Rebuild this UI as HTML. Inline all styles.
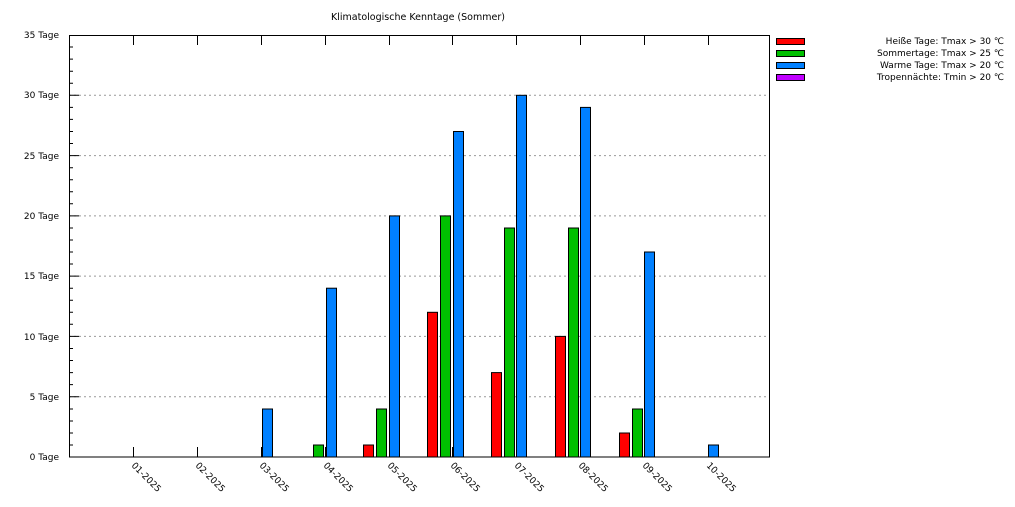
<!DOCTYPE html><html><head><style>body{margin:0;background:#fff}svg{display:block;font-family:"DejaVu Sans","Liberation Sans",sans-serif}</style></head><body>
<svg width="1015" height="507" xmlns="http://www.w3.org/2000/svg">
<text x="418" y="20" font-size="9.5" text-anchor="middle">Klimatologische Kenntage (Sommer)</text>
<g stroke="#999" stroke-dasharray="2,3" stroke-width="1">
<line x1="69" x2="770" y1="396.7" y2="396.7"/><line x1="69" x2="770" y1="336.4" y2="336.4"/><line x1="69" x2="770" y1="276.1" y2="276.1"/><line x1="69" x2="770" y1="215.9" y2="215.9"/><line x1="69" x2="770" y1="155.6" y2="155.6"/><line x1="69" x2="770" y1="95.3" y2="95.3"/>
</g>
<g stroke="#000" stroke-width="1">
<path d="M69 445h4M69 433h4M69 421h4M69 409h4M69 396.7h10M69 384.6h4M69 372.6h4M69 360.5h4M69 348.5h4M69 336.4h10M69 324.3h4M69 312.3h4M69 300.2h4M69 288.2h4M69 276.1h10M69 264h4M69 252h4M69 240h4M69 228h4M69 215.9h10M69 203.8h4M69 191.8h4M69 179.7h4M69 167.7h4M69 155.6h10M69 143.5h4M69 131.5h4M69 119.4h4M69 107.4h4M69 95.3h10M69 83.2h4M69 71.2h4M69 59.1h4M69 47h4"/>
<path d="M133.5 457v-10M197.5 457v-10M261.5 457v-10M325.5 457v-10M389.5 457v-10M452.5 457v-10M516.5 457v-10M580.5 457v-10M644.5 457v-10M708.5 457v-10"/>
<path d="M133.5 35v10M197.5 35v10M261.5 35v10M325.5 35v10M389.5 35v10M452.5 35v10M516.5 35v10M580.5 35v10M644.5 35v10M708.5 35v10"/>
</g>
<g font-size="9" text-anchor="end">
<text x="59" y="460">0 Tage</text><text x="59" y="400">5 Tage</text><text x="59" y="340">10 Tage</text><text x="59" y="279">15 Tage</text><text x="59" y="219">20 Tage</text><text x="59" y="159">25 Tage</text><text x="59" y="98">30 Tage</text><text x="59" y="38">35 Tage</text>
</g>
<g font-size="9">
<text transform="translate(131,466) rotate(45)">01-2025</text><text transform="translate(195,466) rotate(45)">02-2025</text><text transform="translate(259,466) rotate(45)">03-2025</text><text transform="translate(323,466) rotate(45)">04-2025</text><text transform="translate(387,466) rotate(45)">05-2025</text><text transform="translate(450,466) rotate(45)">06-2025</text><text transform="translate(514,466) rotate(45)">07-2025</text><text transform="translate(578,466) rotate(45)">08-2025</text><text transform="translate(642,466) rotate(45)">09-2025</text><text transform="translate(706,466) rotate(45)">10-2025</text>
</g>
<g stroke="#000" stroke-width="1">
<rect x="262.5" y="409" width="10" height="48" fill="#0080ff"/>
<rect x="313.5" y="445" width="10" height="12" fill="#00c000"/><rect x="326.5" y="288.2" width="10" height="168.8" fill="#0080ff"/>
<rect x="363.5" y="445" width="10" height="12" fill="#ff0000"/><rect x="376.5" y="409" width="10" height="48" fill="#00c000"/><rect x="389.5" y="215.9" width="10" height="241.1" fill="#0080ff"/>
<rect x="427.5" y="312.3" width="10" height="144.7" fill="#ff0000"/><rect x="440.5" y="215.9" width="10" height="241.1" fill="#00c000"/><rect x="453.5" y="131.5" width="10" height="325.5" fill="#0080ff"/>
<rect x="491.5" y="372.6" width="10" height="84.4" fill="#ff0000"/><rect x="504.5" y="228" width="10" height="229" fill="#00c000"/><rect x="516.5" y="95.3" width="10" height="361.7" fill="#0080ff"/>
<rect x="555.5" y="336.4" width="10" height="120.6" fill="#ff0000"/><rect x="568.5" y="228" width="10" height="229" fill="#00c000"/><rect x="580.5" y="107.4" width="10" height="349.6" fill="#0080ff"/>
<rect x="619.5" y="433" width="10" height="24" fill="#ff0000"/><rect x="632.5" y="409" width="10" height="48" fill="#00c000"/><rect x="644.5" y="252" width="10" height="205" fill="#0080ff"/>
<rect x="708.5" y="445" width="10" height="12" fill="#0080ff"/>
</g>
<rect x="69.5" y="35.5" width="700" height="421.5" fill="none" stroke="#000"/>
<g stroke="#000" stroke-width="1">
<rect x="776.5" y="38.5" width="28" height="6" fill="#ff0000"/>
<rect x="776.5" y="50.5" width="28" height="6" fill="#00c000"/>
<rect x="776.5" y="62.5" width="28" height="6" fill="#0080ff"/>
<rect x="776.5" y="74.5" width="28" height="6" fill="#c000ff"/>
</g>
<g font-size="9" text-anchor="end">
<text x="1004" y="44">Heiße Tage: Tmax &gt; 30 ℃</text>
<text x="1004" y="56">Sommertage: Tmax &gt; 25 ℃</text>
<text x="1004" y="68">Warme Tage: Tmax &gt; 20 ℃</text>
<text x="1004" y="80">Tropennächte: Tmin &gt; 20 ℃</text>
</g>
</svg></body></html>
